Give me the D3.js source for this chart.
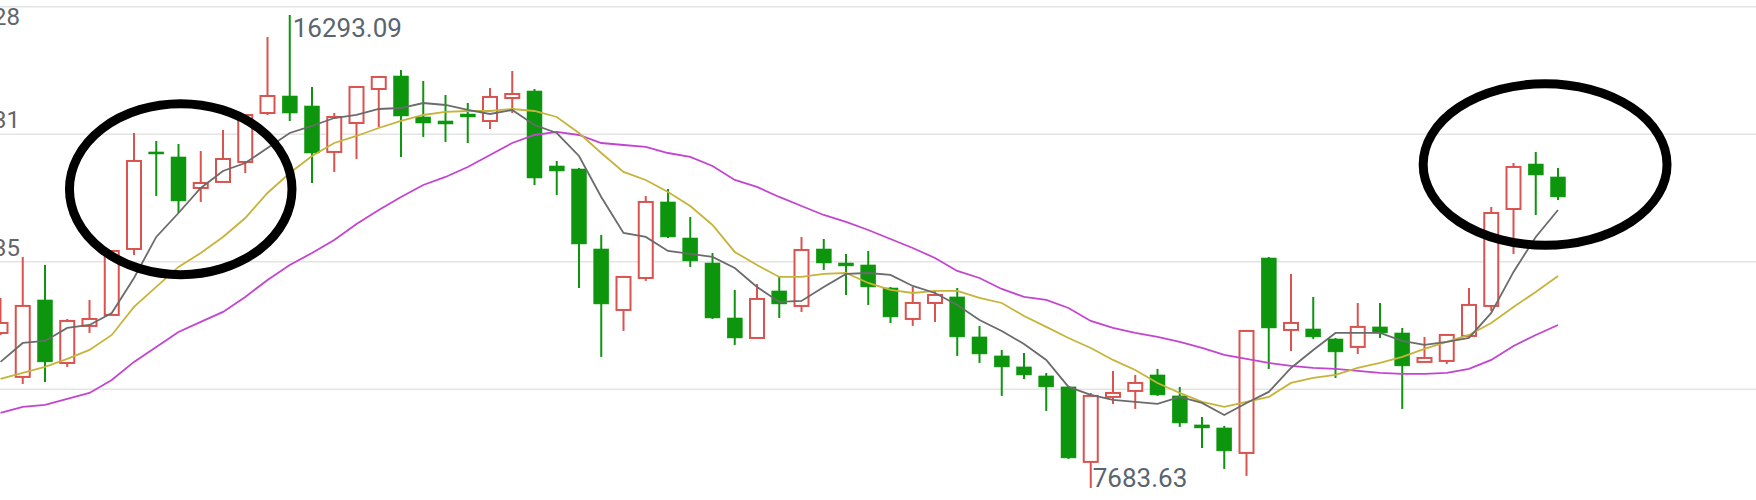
<!DOCTYPE html>
<html>
<head>
<meta charset="utf-8">
<script src="https://cdnjs.cloudflare.com/ajax/libs/d3/7.8.5/d3.min.js"></script>
<style>
body { margin: 0; background: #fff; overflow: hidden; }
text { font-family: Roboto, "Noto Sans", sans-serif; }
</style>
</head>
<body>
<script>
var width = 1756,
    height = 500;

// OHLC per day
var opens  = [10505, 9705, 11106, 9959, 10633, 10833, 12034, 13800, 13709, 13144,
              13254, 13618, 14509, 14819, 14637, 13800, 14327, 14946, 15183, 14437,
              14364, 14491, 14364, 14782, 14910, 13545, 13490, 12034, 10924, 11506,
              12890, 12234, 11779, 10778, 10414, 11270, 10997, 12034, 11779, 11743,
              11324, 10760, 11051, 11161, 10433, 10087, 9887, 9723, 9523, 8158,
              9341, 9450, 9741, 9359, 8831, 8776, 8321, 11870, 10560, 10578,
              10396, 10251, 10615, 10505, 9978, 9996, 10451, 10997, 12762, 13581, 13345];
var highs  = [11142, 11889, 11743, 10760, 11106, 11998, 14145, 14000, 13945, 13818,
              14200, 14473, 15893, 16293.09, 14983, 14509, 14983, 15183, 15292, 15092,
              14837, 14691, 14964, 15274, 14946, 13636, 13508, 12289, 11525, 12999,
              13126, 12617, 11961, 11288, 11397, 11525, 12253, 12216, 11943, 11998,
              11343, 11343, 11288, 11324, 10633, 10196, 10141, 9777, 9541, 9413,
              9814, 9741, 9850, 9523, 8977, 8813, 10560, 11889, 11579, 11161,
              10414, 11051, 11051, 10596, 10433, 10469, 11324, 12799, 13599, 13800, 13508];
var lows   = [10469, 9577, 9614, 9887, 10505, 10833, 11925, 12999, 12689, 12890,
              13254, 13417, 14473, 14364, 13235, 13436, 13672, 14255, 13709, 14073,
              13982, 13963, 14218, 14509, 13199, 13017, 11324, 10069, 10542, 11452,
              12234, 11707, 10760, 10287, 10396, 10778, 10888, 11652, 11197, 11015,
              10687, 10633, 10706, 10087, 9959, 9359, 9668, 9086, 8212, 7683.63,
              9213, 9122, 9359, 8795, 8412, 8030, 7903, 9850, 10178, 10396,
              9686, 10123, 10414, 9122, 9978, 9941, 10451, 10906, 11943, 12653, 12926];
var closes = [10687, 10997, 9978, 10724, 10760, 11998, 13636, 13763, 12908, 13235,
              13672, 14473, 14819, 14509, 13781, 14437, 14983, 15165, 14455, 14327,
              14309, 14437, 14801, 14855, 13326, 13454, 12125, 11033, 11525, 12890,
              12253, 11816, 10778, 10414, 11124, 11033, 12016, 11779, 11725, 11343,
              10797, 11051, 11197, 10433, 10123, 9887, 9741, 9523, 8230, 9359,
              9413, 9595, 9377, 8867, 8776, 8358, 10542, 10596, 10687, 10433,
              10160, 10615, 10505, 9905, 10050, 10469, 11015, 12689, 13527, 13381, 12981];

// moving average lines as drawn
var ma5  = [9978, 10323, 10360, 10596, 10651, 10869, 11506, 12253, 12689, 13144,
            13454, 13599, 13872, 14145, 14273, 14418, 14473, 14582, 14600, 14691,
            14655, 14564, 14491, 14564, 14291, 14145, 13727, 12981, 12325, 12253,
            11998, 11943, 11889, 11688, 11343, 11070, 11088, 11343, 11579, 11597,
            11561, 11361, 11233, 11015, 10742, 10542, 10305, 10014, 9523, 9377,
            9286, 9250, 9213, 9341, 9231, 9013, 9231, 9432, 9868, 10196,
            10505, 10505, 10505, 10360, 10287, 10342, 10414, 10869, 11616, 12253, 12744];
var ma10 = [9668, 9777, 9887, 10032, 10196, 10469, 10979, 11343, 11707, 11961,
            12253, 12598, 13053, 13417, 13727, 13963, 14091, 14236, 14364, 14473,
            14528, 14546, 14546, 14582, 14546, 14437, 14145, 13781, 13436, 13290,
            13072, 12817, 12471, 11980, 11743, 11525, 11525, 11579, 11597, 11415,
            11288, 11233, 11270, 11270, 11142, 11051, 10815, 10615, 10414, 10232,
            10014, 9832, 9595, 9413, 9250, 9159, 9250, 9341, 9595, 9686,
            9741, 9868, 9959, 10069, 10214, 10342, 10469, 10687, 10979, 11252, 11543];
var ma20 = [9049, 9159, 9195, 9304, 9413, 9650, 9978, 10251, 10524, 10706,
            10888, 11161, 11470, 11743, 11961, 12198, 12489, 12744, 12981, 13199,
            13345, 13527, 13745, 13963, 14109, 14164, 14109, 13963, 13927, 13891,
            13781, 13709, 13545, 13290, 13163, 12981, 12817, 12653, 12526, 12380,
            12216, 12052, 11870, 11634, 11506, 11306, 11161, 11106, 10960, 10724,
            10596, 10505, 10433, 10342, 10232, 10105, 10032, 9959, 9905, 9868,
            9850, 9814, 9777, 9759, 9759, 9777, 9850, 10014, 10269, 10469, 10651];

var tickValues = [16444.28, 14123.31, 11802.35, 9481.38];
var tickLabels = ["16444.28", "14123.31", "11802.35"];

// extreme markers: [index, value, text]
var maxMark = [13, 16293.09, "16293.09"];
var minMark = [49, 7683.63, "7683.63"];

// hand drawn circles: [center index, center value, half width in days, half height in value]
var circles = [[8.1, 13123, 5.0, 1556],
               [69.42, 13572, 5.48, 1471]];

var data = opens.map(function(o, i) {
    return { i: i, o: o, h: highs[i], l: lows[i], c: closes[i] };
});

var x = d3.scaleLinear().domain([0, 70]).range([0.5, 1558]);
var y = d3.scaleLinear().domain([16444.28, 9481.38]).range([6.7, 389.2]);

var up = "#d9534f", down = "#0d960d";
var bodyW = 15;

var svg = d3.select("body").append("svg")
    .attr("width", width)
    .attr("height", height);

svg.append("g")
    .selectAll("line")
    .data(tickValues).enter()
    .append("line")
    .attr("x1", 0).attr("x2", width)
    .attr("y1", function(d) { return y(d); })
    .attr("y2", function(d) { return y(d); })
    .attr("stroke", "#e3e3e3")
    .attr("stroke-width", 1.5);

// price labels sit at the left edge, mostly cut off like the source screenshot
svg.append("g")
    .selectAll("text")
    .data(tickLabels).enter()
    .append("text")
    .attr("x", 20)
    .attr("y", function(d, i) { return i == 0 ? y(tickValues[i]) + 18 : y(tickValues[i]) - 6; })
    .attr("text-anchor", "end")
    .attr("font-size", 24)
    .attr("fill", "#5f666d")
    .text(function(d) { return d; });

var candle = svg.append("g")
    .selectAll("g")
    .data(data).enter()
    .append("g");

candle.append("line")
    .attr("x1", function(d) { return x(d.i); })
    .attr("x2", function(d) { return x(d.i); })
    .attr("y1", function(d) { return y(d.h); })
    .attr("y2", function(d) { return y(d.l); })
    .attr("stroke", function(d) { return d.c >= d.o ? up : down; })
    .attr("stroke-width", 2);

candle.append("rect")
    .attr("x", function(d) { return x(d.i) - (d.c >= d.o ? bodyW / 2 - 0.5 : bodyW / 2); })
    .attr("width", function(d) { return d.c >= d.o ? bodyW - 1 : bodyW; })
    .attr("y", function(d) { return y(Math.max(d.o, d.c)); })
    .attr("height", function(d) { return Math.max(2, Math.abs(y(d.o) - y(d.c))); })
    .attr("fill", function(d) { return d.c >= d.o ? "#fff" : down; })
    .attr("stroke", function(d) { return d.c >= d.o ? up : down; })
    .attr("stroke-width", function(d) { return d.c >= d.o ? 2 : 0.5; });

var line = d3.line()
    .x(function(d, i) { return x(i); })
    .y(function(d) { return y(d); });

var maSeries = [[ma20, "#c444d2"], [ma10, "#c6b43a"], [ma5, "#6b6b6b"]];

svg.append("g")
    .selectAll("path")
    .data(maSeries).enter()
    .append("path")
    .attr("d", function(d) { return line(d[0]); })
    .attr("fill", "none")
    .attr("stroke", function(d) { return d[1]; })
    .attr("stroke-width", 1.8);

svg.append("text")
    .attr("x", x(maxMark[0]) + 3)
    .attr("y", y(maxMark[1]) + 22)
    .attr("font-size", 26)
    .attr("fill", "#5a646e")
    .text(maxMark[2]);

svg.append("text")
    .attr("x", x(minMark[0]) + 2)
    .attr("y", y(minMark[1]) - 1)
    .attr("font-size", 26)
    .attr("fill", "#5a646e")
    .text(minMark[2]);

svg.append("g")
    .selectAll("ellipse")
    .data(circles).enter()
    .append("ellipse")
    .attr("cx", function(d) { return x(d[0]); })
    .attr("cy", function(d) { return y(d[1]); })
    .attr("rx", function(d) { return x(d[2]) - x(0); })
    .attr("ry", function(d) { return y(d[1] - d[3]) - y(d[1]); })
    .attr("fill", "none")
    .attr("stroke", "#000")
    .attr("stroke-width", 9);
</script>
</body>
</html>
